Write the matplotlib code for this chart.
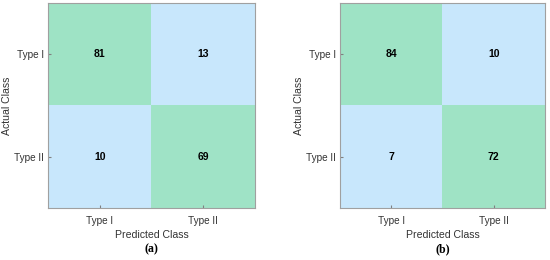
import numpy as np
import matplotlib.pyplot as plt

plt.rcParams['font.family'] = ['Liberation Sans', 'DejaVu Sans']

classes = ['Type I', 'Type II']
cm_a = [[81, 13], [10, 69]]
cm_b = [[84, 10], [7, 72]]
panel_labels = ['(a)', '(b)']

green = np.array([0x9e, 0xe3, 0xc5]) / 255
blue = np.array([0xc2, 0xe5, 0xfc]) / 255


def cell_colors(cm):
    cm = np.array(cm, dtype=float)
    rgb = np.ones(cm.shape + (3,))
    vmax = cm.max()
    for i in range(cm.shape[0]):
        for j in range(cm.shape[1]):
            base = green if i == j else blue
            t = 0.88 + 0.12 * cm[i, j] / vmax
            rgb[i, j] = 1 - (1 - base) * t
    return rgb


def plot_cm(ax, cm, label):
    ax.imshow(cell_colors(cm), aspect='auto')
    for i in range(2):
        for j in range(2):
            ax.text(j, i, str(cm[i][j]), ha='center', va='center',
                    fontsize=7.5, fontweight='bold', color='black')
    ax.set_xticks(range(2))
    ax.set_yticks(range(2))
    ax.set_xticklabels(classes, fontsize=7.2, color='#333333')
    ax.set_yticklabels(classes, fontsize=7.2, color='#333333')
    ax.tick_params(direction='in', length=2, color='#808080', pad=3)
    ax.tick_params(axis='x', pad=6)
    ax.set_xlabel('Predicted Class', fontsize=7.6, color='#333333', labelpad=3)
    ax.set_ylabel('Actual Class', fontsize=7.6, color='#333333')
    ax.yaxis.set_label_coords(-0.175, 0.5)
    for s in ax.spines.values():
        s.set_color('#a0a0a0')
        s.set_linewidth(0.8)
    ax.text(0.5, -0.2, label, transform=ax.transAxes, ha='center', va='center',
            fontsize=8.5, fontweight='bold', family='Liberation Serif')


fig = plt.figure(figsize=(5.5, 2.6), dpi=100)
ax1 = fig.add_axes([48 / 550, 1 - 208 / 260, 207 / 550, 205 / 260])
ax2 = fig.add_axes([340 / 550, 1 - 208 / 260, 205 / 550, 205 / 260])
plot_cm(ax1, cm_a, panel_labels[0])
plot_cm(ax2, cm_b, panel_labels[1])

fig.savefig('out.png', dpi=100)
